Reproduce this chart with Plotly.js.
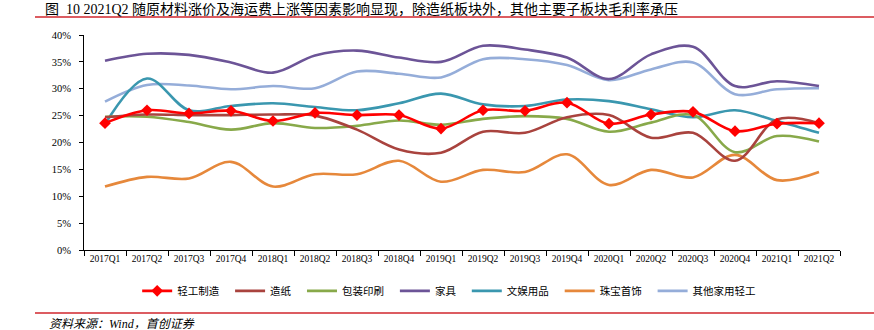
<!DOCTYPE html>
<html>
<head>
<meta charset="utf-8">
<script src="https://cdn.plot.ly/plotly-3.0.1.min.js"></script>
<style>html,body{margin:0;padding:0;background:#fff;}#chart{width:874px;height:330px;}</style>
</head>
<body>
<div id="chart"></div>
<script>
const categories = ['2017Q1','2017Q2','2017Q3','2017Q4','2018Q1','2018Q2','2018Q3','2018Q4','2019Q1','2019Q2','2019Q3','2019Q4','2020Q1','2020Q2','2020Q3','2020Q4','2021Q1','2021Q2'];
const seriesNames = ['轻工制造','造纸','包装印刷','家具','文娱用品','珠宝首饰','其他家用轻工'];
const qinggong = [23.6, 26.0, 25.4, 25.9, 24.0, 25.5, 25.1, 25.1, 22.6, 26.0, 25.9, 27.4, 23.5, 25.2, 25.7, 22.1, 23.5, 23.6];
const zaozhi   = [24.7, 25.2, 25.1, 25.1, 25.2, 25.0, 22.4, 18.7, 18.1, 22.0, 21.8, 24.7, 25.1, 20.9, 21.8, 16.6, 24.3, 23.6];
const baozhuang= [24.8, 24.8, 23.8, 22.4, 23.6, 22.7, 23.1, 24.1, 23.3, 24.4, 24.9, 24.4, 22.0, 23.7, 25.1, 18.2, 21.2, 20.2];
const jiaju    = [35.2, 36.5, 36.3, 34.9, 33.0, 36.2, 37.1, 35.8, 35.0, 38.0, 37.3, 35.8, 31.8, 36.4, 37.8, 30.5, 31.4, 30.5];
const wenyu    = [23.4, 31.9, 26.0, 26.8, 27.3, 26.6, 26.0, 27.3, 29.1, 27.1, 26.8, 28.0, 27.7, 26.2, 24.7, 26.0, 24.0, 21.8];
const zhubao   = [11.8, 13.6, 13.3, 16.4, 11.8, 14.1, 14.1, 16.6, 12.7, 14.9, 14.5, 17.8, 12.1, 14.9, 13.5, 17.7, 13.0, 14.5];
const qita     = [27.6, 30.7, 30.6, 29.9, 30.5, 30.1, 33.2, 32.8, 32.1, 35.5, 35.5, 34.4, 31.6, 33.6, 34.9, 29.0, 29.9, 30.1];
const yTickVals = [0,5,10,15,20,25,30,35,40];

const colors = ['#FF0000','#A9433E','#88A94A','#6C5497','#3A97AF','#E6883B','#95ADD9'];
const values = [qinggong, zaozhi, baozhuang, jiaju, wenyu, zhubao, qita];

const traces = [];
for (let i = values.length - 1; i >= 0; i--) {
  const t = {
    x: categories, y: values[i], name: seriesNames[i] + '\u2002\u200a', type: 'scatter',
    mode: i === 0 ? 'lines+markers' : 'lines',
    line: {color: colors[i], width: 2.6, shape: 'spline', smoothing: 1},
    legendrank: i + 1,
    hoverinfo: 'skip'
  };
  if (i === 0) t.marker = {symbol: 'diamond', size: 9, color: colors[i]};
  traces.push(t);
}

const cjk = '"Liberation Serif", "Noto Sans CJK SC", serif';
const layout = {
  width: 874, height: 330,
  margin: {l: 84, r: 34, t: 35, b: 80, autoexpand: false},
  paper_bgcolor: '#fff', plot_bgcolor: '#fff',
  showlegend: true,
  legend: {orientation: 'h', x: 0.487, xanchor: 'center', y: -0.19, yanchor: 'middle',
           font: {family: '"Noto Sans CJK SC", sans-serif', size: 10.5, color: '#000'},
           traceorder: 'normal', itemwidth: 30},
  title: {text: '图  10 2021Q2 随原材料涨价及海运费上涨等因素影响显现，除造纸板块外，其他主要子板块毛利率承压',
          font: {family: cjk, size: 14, color: '#000'},
          x: 45/874, xanchor: 'left', xref: 'container', y: 1 - 9/330, yanchor: 'middle', yref: 'container'},
  xaxis: {type: 'category', range: [-0.5, categories.length - 0.5], autorange: false,
          showgrid: false, zeroline: false, showline: true, linecolor: '#000', linewidth: 1,
          ticks: 'outside', tickson: 'boundaries', ticklen: 5, tickcolor: '#000', tickangle: 0, automargin: false,
          tickfont: {family: '"Liberation Serif", serif', size: 9.5, color: '#000'}, fixedrange: true},
  yaxis: {range: [0, 40], tickvals: yTickVals, ticktext: yTickVals.map(v => v + '%'),
          showgrid: false, zeroline: false, showline: true, linecolor: '#000', linewidth: 1, automargin: false,
          ticks: 'outside', ticklen: 4, tickcolor: '#000', ticklabelstandoff: 6,
          tickfont: {family: '"Liberation Serif", serif', size: 10.5, color: '#000'}, fixedrange: true},
  shapes: [
    {type: 'line', xref: 'paper', yref: 'paper', x0: (35-84)/756, x1: (874-84)/756, y0: (250-17)/215, y1: (250-17)/215,
     line: {color: '#D0262C', width: 1.5}},
    {type: 'line', xref: 'paper', yref: 'paper', x0: (35-84)/756, x1: (874-84)/756, y0: (250-313)/215, y1: (250-313)/215,
     line: {color: '#D0262C', width: 1.5}}
  ],
  annotations: [
    {text: '<i>资料来源：Wind，首创证券</i>', xref: 'paper', yref: 'paper', x: (47-84)/756, y: (250-324)/215,
     xanchor: 'left', yanchor: 'middle', showarrow: false,
     font: {family: cjk, size: 12, color: '#000'}}
  ]
};
Plotly.newPlot('chart', traces, layout, {displayModeBar: false, staticPlot: true});
</script>
</body>
</html>
